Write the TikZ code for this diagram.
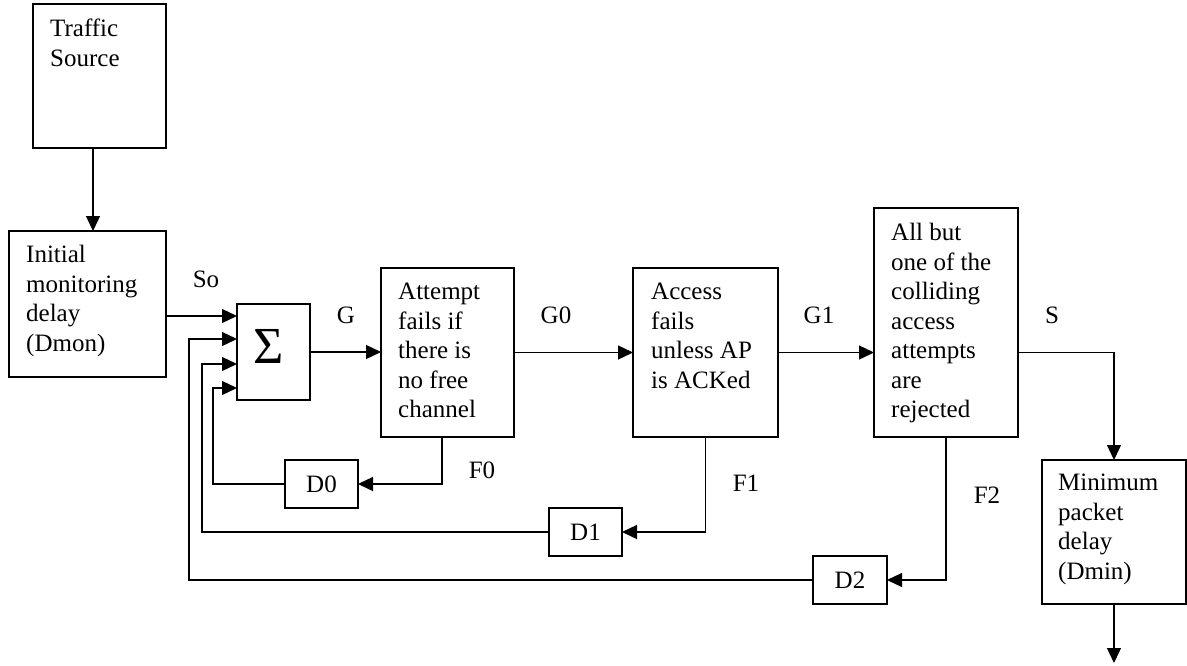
\documentclass[tikz,border=0pt]{standalone}
\usepackage{fontspec}
\setmainfont{Liberation Serif}
\usetikzlibrary{arrows.meta}
\begin{document}
\begin{tikzpicture}[x=1pt,y=-1pt,
  box/.style={draw,line width=1.3pt,inner sep=0pt,outer sep=0pt,rectangle},
  txt/.style={anchor=north west,inner sep=0pt,align=left,font=\fontsize{25}{29.5}\selectfont},
  lbl/.style={inner sep=0pt,font=\fontsize{25}{29.5}\selectfont},
  line/.style={line width=1.3pt},
  arr/.style={line width=1.3pt,-{Triangle[length=15pt,width=14pt]}}]
\useasboundingbox (0,0) rectangle (1187,665);
% boxes
\node[box,minimum width=133pt,minimum height=144pt] (ts) at (99.5,76) {};
\node[box,minimum width=157pt,minimum height=146pt] (im) at (87.5,304) {};
\node[box,minimum width=73pt,minimum height=96pt] (sum) at (273.5,352) {};
\node[box,minimum width=133pt,minimum height=169pt] (att) at (447.5,352.5) {};
\node[box,minimum width=145pt,minimum height=169pt] (acc) at (705.5,352.5) {};
\node[box,minimum width=144pt,minimum height=229pt] (abo) at (946,322.5) {};
\node[box,minimum width=144pt,minimum height=144pt] (mpd) at (1114,532) {};
\node[box,minimum width=73pt,minimum height=48pt,font=\fontsize{25}{29.5}\selectfont] (d0) at (321.5,484) {D0};
\node[box,minimum width=73pt,minimum height=48pt,font=\fontsize{25}{29.5}\selectfont] (d1) at (585.5,532) {D1};
\node[box,minimum width=74pt,minimum height=48pt,font=\fontsize{25}{29.5}\selectfont] (d2) at (850,580) {D2};
% box texts
\node[txt] (tst) at (50,19) {Traffic\\Source};
\node[txt] (imt) at (26,245) {Initial\\monitoring\\delay\\(Dmon)};
\node[inner sep=0pt,font=\fontsize{52}{52}\selectfont] (sumt) at (269,346) {Σ};
\node[txt] (attt) at (398,283) {Attempt\\fails if\\there is\\no free\\channel};
\node[txt] (acct) at (651,283) {Access\\fails\\unless AP\\is ACKed};
\node[txt] (abot) at (891,223) {All but\\one of the\\colliding\\access\\attempts\\are\\rejected};
\node[txt] (mpdt) at (1058,474) {Minimum\\packet\\delay\\(Dmin)};
% labels
\node[lbl] (lso) at (206,279) {So};
\node[lbl] (lg) at (346,315) {G};
\node[lbl] (lg0) at (556,315) {G0};
\node[lbl] (lg1) at (819,315) {G1};
\node[lbl] (ls) at (1052,315) {S};
\node[lbl] (lf0) at (482,470) {F0};
\node[lbl] (lf1) at (746,483) {F1};
\node[lbl] (lf2) at (987,495) {F2};
% connectors
\coordinate (out) at (1114,663);
\draw[arr] ([xshift=-6.5pt]ts.south) -- ([xshift=5.5pt]im.north);
\draw[arr] ([yshift=-12pt]im.east) -- ([yshift=36pt]sum.west);
\draw[arr] (sum.east) -- (sum.east -| att.west);
\draw[arr] (att.east) -- (acc.west);
\draw[arr] (acc.east) -- (acc.east -| abo.west);
\draw[arr] (acc.east -| abo.east) -| (mpd.north);
\draw[arr] (mpd.south) -- (out);
\draw[arr] ([xshift=-5.5pt]att.south) |- (d0.east);
\draw[arr] (d0.west) -| ([xshift=-24pt,yshift=-36pt]sum.west) -- ([yshift=-36pt]sum.west);
\draw[arr] (acc.south) |- (d1.east);
\draw[arr] (d1.west) -| ([xshift=-35pt,yshift=-12pt]sum.west) -- ([yshift=-12pt]sum.west);
\draw[arr] (abo.south) |- (d2.east);
\draw[arr] (d2.west) -| ([xshift=-48pt,yshift=13pt]sum.west) -- ([yshift=13pt]sum.west);
\end{tikzpicture}
\end{document}
